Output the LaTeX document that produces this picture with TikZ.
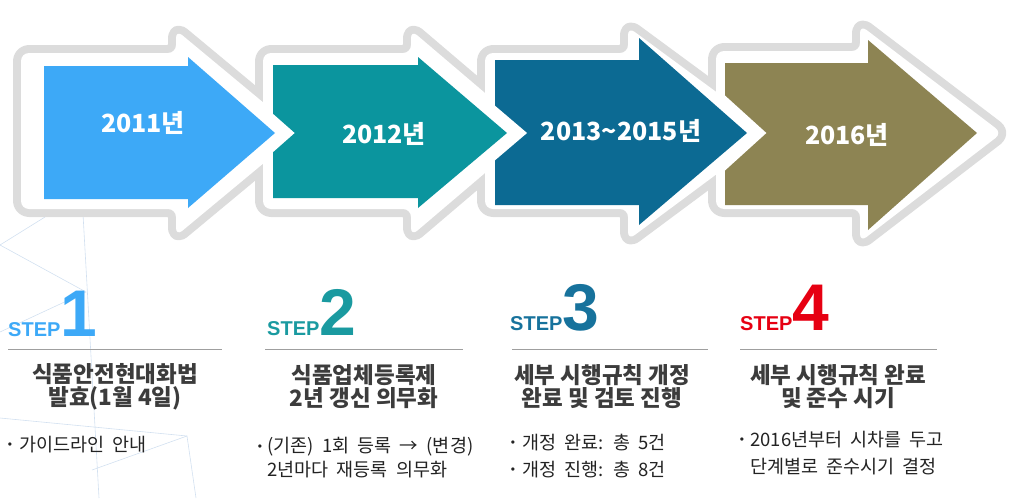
\documentclass[tikz,border=0pt]{standalone}
\usepackage{fontspec}
\setmainfont{Noto Sans CJK KR}
\newfontfamily\itemfont{Noto Sans CJK KR}[WordSpace=2]
\newfontfamily\stepfont{Liberation Sans}
\definecolor{arrowA}{HTML}{3DA9F7}
\definecolor{arrowB}{HTML}{0B959E}
\definecolor{arrowC}{HTML}{0C6A93}
\definecolor{arrowD}{HTML}{8D8453}
\definecolor{rimgray}{HTML}{DCDCDC}
\definecolor{stepA}{HTML}{3DA9F7}
\definecolor{stepB}{HTML}{1A9AA0}
\definecolor{stepC}{HTML}{17729C}
\definecolor{stepD}{HTML}{E60012}
\definecolor{titlegray}{HTML}{3C3C3C}
\definecolor{itemgray}{HTML}{232323}
\definecolor{webblue}{HTML}{D2E0F0}
\tikzset{
  grayrim/.style={draw=rimgray, line width=16pt, rounded corners=8pt, line join=round},
  whitefill/.style={fill=white, rounded corners=8pt},
  whitechev/.style={draw=white, line width=26pt, miter limit=10},
  yeartext/.style={text=white, inner sep=0pt, font=\bfseries\fontsize{25}{25}\selectfont},
  steptext/.style={anchor=base west, inner sep=0pt, font=\stepfont\bfseries\fontsize{20}{20}\selectfont},
  stepdigit/.style={anchor=base west, inner sep=0pt, font=\stepfont\bfseries\fontsize{66}{66}\selectfont},
  steptitle/.style={align=center, inner sep=0pt, text=titlegray, font=\bfseries\fontsize{22.5}{23}\selectfont},
  stepitem/.style={anchor=west, inner sep=0pt, text=itemgray, font=\itemfont\fontsize{18.5}{19}\selectfont},
  stepbullet/.style={inner sep=0pt, text=itemgray, font=\stepfont\fontsize{12}{12}\selectfont},
  steprule/.style={draw=gray!75, line width=1pt},
  bgline/.style={draw=webblue, line width=0.6pt}
}
\begin{document}
\begin{tikzpicture}[x=1pt,y=-1pt]
\useasboundingbox (0,0) rectangle (1022,498);

% background web
\draw[bgline] (0,245) -- (45,217);
\draw[bgline] (0,245) -- (86,292) -- (0,332);
\draw[bgline] (83,214) -- (99,498);
\draw[bgline] (0,418) -- (187,436) -- (196,498);
\draw[bgline] (92,470) -- (187,436);

% rims
\draw[grayrim] (21,53) -- (176,53) -- (176,30) -- (300,133) -- (176,236) -- (176,209) -- (21,209) -- cycle;
\draw[grayrim] (263,53) -- (411,53) -- (411,30) -- (532,133) -- (411,236) -- (411,209) -- (263,209) -- cycle;
\draw[grayrim] (485,53) -- (628,53) -- (628,27) -- (772,133) -- (628,240) -- (628,209) -- (485,209) -- cycle;
\draw[grayrim] (716,51) -- (860,51) -- (860,25) -- (1002,133) -- (860,242) -- (860,209) -- (716,209) -- cycle;
\fill[whitefill] (21,53) -- (176,53) -- (176,30) -- (300,133) -- (176,236) -- (176,209) -- (21,209) -- cycle;
\fill[whitefill] (263,53) -- (411,53) -- (411,30) -- (532,133) -- (411,236) -- (411,209) -- (263,209) -- cycle;
\fill[whitefill] (485,53) -- (628,53) -- (628,27) -- (772,133) -- (628,240) -- (628,209) -- (485,209) -- cycle;
\fill[whitefill] (716,51) -- (860,51) -- (860,25) -- (1002,133) -- (860,242) -- (860,209) -- (716,209) -- cycle;

% arrows, last one at the bottom
\fill[arrowD] (725,63) -- (868,63) -- (868,40) -- (977,133) -- (868,230) -- (868,205) -- (725,205) -- cycle;
\draw[whitechev] (715,104) -- (747,133) -- (715,162);
\fill[arrowC] (495,60) -- (639,60) -- (639,38) -- (747,133) -- (639,225) -- (639,205) -- (495,205) -- cycle;
\draw[whitechev] (480,110) -- (507,133) -- (480,156);
\fill[arrowB] (273,65) -- (418,65) -- (418,57) -- (507,133) -- (418,208) -- (418,198) -- (273,198) -- cycle;
\draw[whitechev] (249,110) -- (275,133) -- (249,156);
\fill[arrowA] (44,66) -- (188,66) -- (188,57) -- (275,133) -- (188,208) -- (188,199) -- (44,199) -- cycle;

\node[yeartext] (y1) at (143,123) {2011년};
\node[yeartext] (y2) at (384,134) {2012년};
\node[yeartext] (y3) at (621,131) {2013\textasciitilde 2015년};
\node[yeartext] (y4) at (847,135) {2016년};

% steps
\node[steptext, text=stepA] (s1) at (8,336) {STEP};
\node[stepdigit, text=stepA] (d1) at (s1.base east) {1};
\node[steptext, text=stepB] (s2) at (267,335) {STEP};
\node[stepdigit, text=stepB] (d2) at (s2.base east) {2};
\node[steptext, text=stepC] (s3) at (510,330) {STEP};
\node[stepdigit, text=stepC] (d3) at (s3.base east) {3};
\node[steptext, text=stepD] (s4) at (740,330) {STEP};
\node[stepdigit, text=stepD] (d4) at (s4.base east) {4};

\draw[steprule] (8,349) -- (222,349);
\draw[steprule] (265,349) -- (463,349);
\draw[steprule] (512,349) -- (708,349);
\draw[steprule] (740,349) -- (937,349);

\node[steptitle] (t1) at (115,386.5) {식품안전현대화법\\발효(1월 4일)};
\node[steptitle] (t2) at (364,386.5) {식품업체등록제\\2년 갱신 의무화};
\node[steptitle] (t3) at (602,386.5) {세부 시행규칙 개정\\완료 및 검토 진행};
\node[steptitle] (t4) at (838,386.5) {세부 시행규칙 완료\\및 준수 시기};

\node[stepbullet] (b1) at (10,446) {•};
\node[stepitem] (i1) at (19,445) {가이드라인 안내};
\node[stepbullet] (b2) at (260,448) {•};
\node[stepitem] (i2) at (267,447) {(기존) 1회 등록 → (변경)};
\node[stepitem] (i2b) at (267,470) {2년마다 재등록 의무화};
\node[stepbullet] (b3) at (513,444) {•};
\node[stepitem] (i3) at (522,443) {개정 완료: 총 5건};
\node[stepbullet] (b3b) at (513,471) {•};
\node[stepitem] (i3b) at (522,470) {개정 진행: 총 8건};
\node[stepbullet] (b4) at (742,441) {•};
\node[stepitem] (i4) at (750,440) {2016년부터 시차를 두고};
\node[stepitem] (i4b) at (750,467) {단계별로 준수시기 결정};
\end{tikzpicture}
\end{document}
